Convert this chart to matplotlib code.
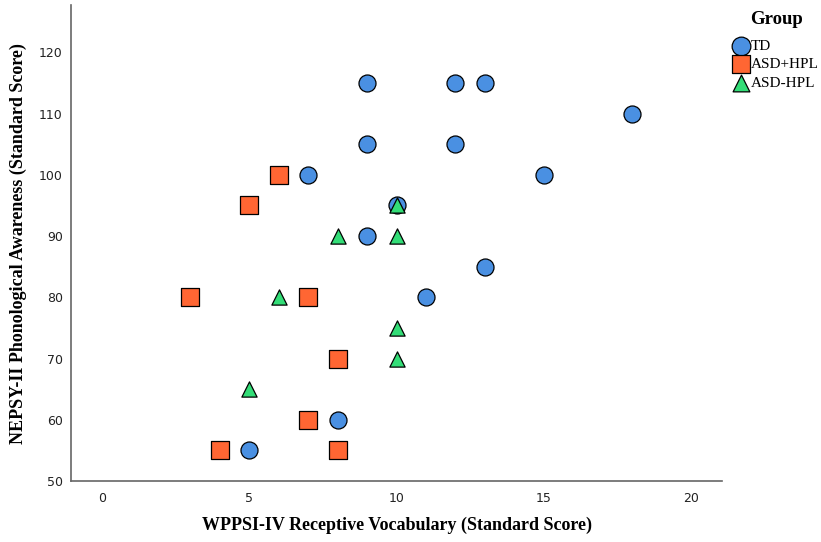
import matplotlib
matplotlib.use("Agg")
import matplotlib.pyplot as plt

# vocabulary (x) and phonological awareness (y) per group
td_x = [9, 12, 13, 18, 9, 12, 7, 15, 10, 9, 13, 11, 8, 5]
td_y = [115, 115, 115, 110, 105, 105, 100, 100, 95, 90, 85, 80, 60, 55]
hpl_x = [6, 5, 3, 7, 8, 7, 4, 8]
hpl_y = [100, 95, 80, 80, 70, 60, 55, 55]
nohpl_x = [10, 8, 10, 6, 10, 10, 5]
nohpl_y = [95, 90, 90, 80, 75, 70, 65]

xticks = [0, 5, 10, 15, 20]
yticks = [50, 60, 70, 80, 90, 100, 110, 120]

fig = plt.figure(figsize=(8.21, 5.42), dpi=100)
ax = fig.add_axes([0.0865, 0.1125, 0.7929, 0.878])

ax.scatter(td_x, td_y, s=150, marker="o", c="#4A90E2", edgecolors="black", linewidths=0.9, label="TD", zorder=3)
ax.scatter(hpl_x, hpl_y, s=150, marker="s", c="#FF6633", edgecolors="black", linewidths=0.9, label="ASD+HPL", zorder=3)
ax.scatter(nohpl_x, nohpl_y, s=120, marker="^", c="#33DD77", edgecolors="black", linewidths=0.9, label="ASD-HPL", zorder=4)

ax.set_xlim(-1.05, 21.05)
ax.set_ylim(50, 127.7)
ax.set_xticks(xticks)
ax.set_yticks(yticks)
ax.tick_params(length=0, labelsize=9, colors="#222222")
ax.tick_params(axis="x", pad=8)
ax.tick_params(axis="y", pad=6)

for side in ["top", "right"]:
    ax.spines[side].set_visible(False)
for side in ["left", "bottom"]:
    ax.spines[side].set_color("#666666")
    ax.spines[side].set_linewidth(1.2)

serif = "Liberation Serif"
ax.set_xlabel("WPPSI-IV Receptive Vocabulary (Standard Score)", fontfamily=serif, fontweight="bold", fontsize=13)
ax.set_ylabel("NEPSY-II Phonological Awareness (Standard Score)", fontfamily=serif, fontweight="bold", fontsize=13)
ax.xaxis.set_label_coords(0.5, -0.0924)
ax.yaxis.set_label_coords(-0.0814, 0.5)
ax.xaxis.label.set_va("center")
ax.yaxis.label.set_va("center")

leg = ax.legend(loc="upper left", bbox_to_anchor=(1.005, 0.942), frameon=False,
                prop={"family": serif, "size": 11}, handletextpad=0.05, labelspacing=0.33,
                handlelength=1.2, borderaxespad=0, markerscale=1.1)
fig.text(776 / 821, 1 - 20 / 542, "Group", family=serif, fontweight="bold", fontsize=13.5,
         ha="center", va="center")

fig.savefig("out.png", dpi=100)
